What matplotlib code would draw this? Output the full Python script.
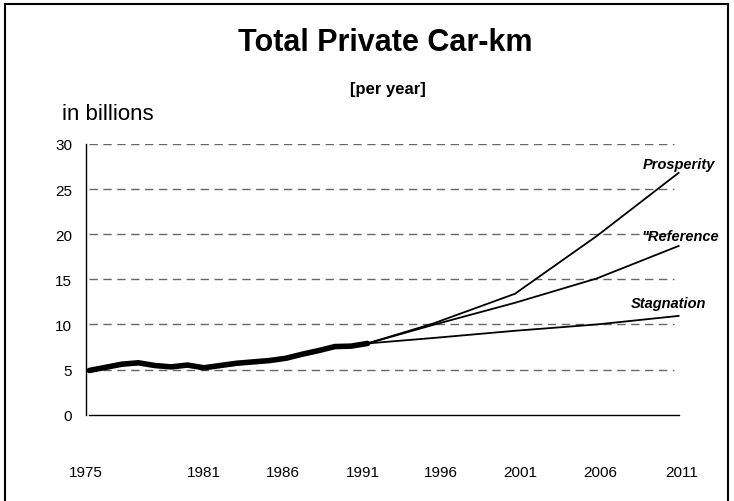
import matplotlib
matplotlib.use('Agg')
import matplotlib.pyplot as plt
from matplotlib.patches import Rectangle

plt.rcParams['font.family'] = ['Liberation Sans', 'DejaVu Sans']

# historische reeks (miljard autokilometers)
jaren_hist = [1975, 1976, 1977, 1978, 1979, 1980, 1981, 1982, 1983,
              1984, 1985, 1986, 1987, 1988, 1989, 1990, 1991, 1992]
km_hist = [4.9, 5.25, 5.6, 5.75, 5.45, 5.3, 5.5, 5.2, 5.45,
           5.7, 5.85, 6.0, 6.25, 6.7, 7.1, 7.55, 7.6, 7.9]

# scenario's
jaren_scen = [1992, 1996, 2001, 2006, 2011]
prosperity = [7.9, 10.1, 13.4, 19.8, 26.8]
reference = [7.9, 9.95, 12.4, 15.1, 18.7]
stagnation = [7.9, 8.5, 9.3, 10.0, 10.95]

xlabels = ['1975', '1981', '1986', '1991', '1996', '2001', '2006', '2011']
xlabel_pos = [1974.8, 1982.0, 1986.8, 1991.7, 1996.5, 2001.3, 2006.2, 2011.2]

fig = plt.figure(figsize=(7.34, 5.02), dpi=100)
ax = fig.add_axes([0.1172, 0.1719, 0.8118, 0.5393])

# kader rond de hele figuur
fig.patches.append(Rectangle((5 / 734, -0.01), 723 / 734, 1 - 5 / 502 + 0.01,
                             transform=fig.transFigure, fill=False,
                             edgecolor='black', linewidth=1.5))

for v in range(5, 31, 5):
    ax.plot([1975, 2010.7], [v, v], color='#666666', linewidth=1,
            dashes=(6, 4), zorder=1)

ax.plot(jaren_scen, prosperity, color='black', linewidth=1.3, zorder=2)
ax.plot(jaren_scen, reference, color='black', linewidth=1.3, zorder=2)
ax.plot(jaren_scen, stagnation, color='black', linewidth=1.3, zorder=2)
ax.plot(jaren_hist, km_hist, color='black', linewidth=4, zorder=3,
        solid_capstyle='round', solid_joinstyle='round')

lbl = dict(fontsize=10.5, fontweight='bold', style='italic',
           ha='right', va='baseline')
ax.text(2013.2, 27.35, 'Prosperity', clip_on=False, **lbl)
ax.text(2013.5, 19.4, '"Reference', clip_on=False, **lbl)
ax.text(2012.7, 11.95, 'Stagnation', clip_on=False, **lbl)

ax.set_xlim(1975, 2011)
ax.set_ylim(0, 30)
ax.set_yticks(range(0, 31, 5))
ax.set_xticks(xlabel_pos)
ax.set_xticklabels(xlabels)
ax.tick_params(axis='both', length=0, labelsize=11)
ax.tick_params(axis='y', pad=10)
ax.tick_params(axis='x', pad=36)
for s in ['top', 'right']:
    ax.spines[s].set_visible(False)
ax.spines['left'].set_linewidth(1)
ax.spines['bottom'].set_linewidth(1)
ax.spines['bottom'].set_bounds(1975, 2011)

fig.text(385 / 734, 0.915, 'Total Private Car-km', ha='center', va='center',
         fontsize=22, fontweight='bold')
fig.text(388 / 734, 0.821, '[per year]', ha='center', va='center',
         fontsize=12, fontweight='bold')
fig.text(62 / 734, 0.771, 'in billions', ha='left', va='center', fontsize=16)

fig.savefig('out.png', dpi=100)
